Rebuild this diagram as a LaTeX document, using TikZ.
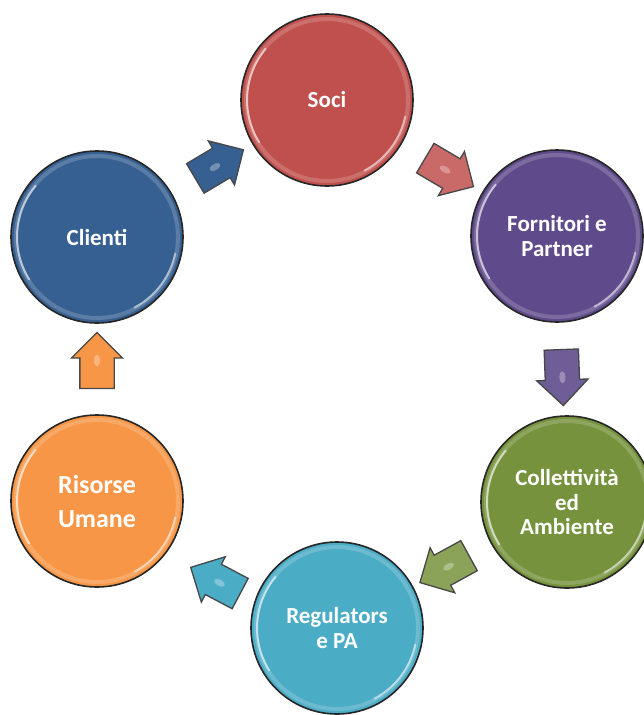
\documentclass[tikz,border=0pt]{standalone}
\usepackage{fontspec}
\setmainfont{Carlito}
\usetikzlibrary{shapes.arrows,calc}
\definecolor{cSoci}{HTML}{C0504D}
\definecolor{cForn}{HTML}{5F4B8B}
\definecolor{cColl}{HTML}{76923C}
\definecolor{cReg}{HTML}{4BACC6}
\definecolor{cRis}{HTML}{F79646}
\definecolor{cCli}{HTML}{376092}
\definecolor{rim}{HTML}{262626}
\tikzset{
  ball/.style={circle, draw=rim, line width=1.6pt, minimum size=172pt, inner sep=0pt,
    text=white, font=\bfseries\fontsize{23}{24.5}\selectfont, align=center},
  flow/.style={single arrow, draw=rim!85, line width=1.3pt, minimum height=56pt,
    minimum width=50pt, single arrow head extend=8.5pt, single arrow tip angle=90,
    inner xsep=0pt, inner ysep=16.5pt, sloped, allow upside down, midway,
    path picture={\fill[white,opacity=.3] (path picture bounding box.center) ellipse[x radius=6pt, y radius=3pt];}},
  gloss/.style={white, opacity=.6, line width=2pt, line cap=round},
}
\newcommand\glossy[1]{%
  \begin{scope}[shift={(#1.center)},x=1pt,y=1pt]
    \draw[white,opacity=.18,line width=4pt] (0,0) circle[radius=81];
    \draw[gloss] (140:80) arc[start angle=140,end angle=212,radius=80];
    \draw[gloss,opacity=.5] (-12:80) arc[start angle=-12,end angle=-62,radius=80];
  \end{scope}}
\begin{document}
\begin{tikzpicture}[x=1pt,y=-1pt]
\useasboundingbox (0,0) rectangle (643,715);
\node[ball, fill=cSoci] (soci) at (327,100) {Soci};
\node[ball, fill=cForn] (forn) at (557,236) {Fornitori e\\Partner};
\node[ball, fill=cColl] (coll) at (567,502) {Collettività\\ed\\Ambiente};
\node[ball, fill=cReg] (reg) at (337,628) {Regulators\\e PA};
\node[ball, fill=cRis, font=\bfseries\fontsize{26}{34}\selectfont] (ris) at (97,501) {Risorse\\Umane};
\node[ball, fill=cCli] (cli) at (97,237) {Clienti};
\glossy{soci}\glossy{forn}\glossy{coll}\glossy{reg}\glossy{ris}\glossy{cli}
\path (cli) -- (soci) node[flow, fill=cCli] (a1) {};
\path (soci) -- (forn) node[flow, fill=cSoci!85!white] (a2) {};
\path (forn) -- (coll) node[flow, fill=cForn!90!white] (a3) {};
\path (coll) -- (reg) node[flow, fill=cColl!85!white] (a4) {};
\path ($(reg)+(6,20)$) -- ($(ris)+(6,20)$) node[flow, fill=cReg] (a5) {};
\path (ris) -- (cli) node[flow, fill=cRis] (a6) {};
\end{tikzpicture}
\end{document}
